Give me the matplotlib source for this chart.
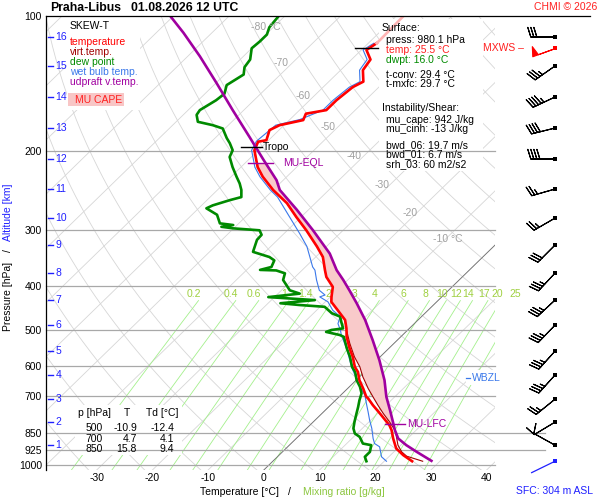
import numpy as np
import matplotlib
matplotlib.use('Agg')
import matplotlib.pyplot as plt
from matplotlib.transforms import Affine2D
from matplotlib.patches import Rectangle
from matplotlib.lines import Line2D
from matplotlib.ticker import NullLocator

plt.rcParams['font.family'] = ['Liberation Sans', 'DejaVu Sans']

# ---- sounding data ----
p_temp = [980, 950, 918, 872, 836, 815, 767, 735, 710, 704.5,
          675, 647, 620, 604, 574, 550, 518, 496, 475, 452,
          433, 422, 401, 381, 368, 344, 326, 300, 280, 261,
          244, 228, 217, 199, 190.5, 189, 179.5, 175, 170.5, 165,
          162, 154, 144, 140, 132, 125, 119, 115]
t_temp = [25.0, 22.3, 19.8, 17.4, 15.6, 14.3, 10.4, 7.6, 5.5, 4.9,
          2.8, 0.6, -1.2, -2.7, -4.9, -7.0, -9.7, -11.3, -13.1, -16.2,
          -18.9, -19.8, -21.4, -24.4, -25.9, -28.7, -31.7, -36.6, -40.9, -45.1,
          -50.0, -54.3, -57.0, -60.7, -61.6, -60.4, -61.7, -60.8, -57.5, -58.2,
          -55.2, -55.2, -54.7, -53.8, -56.0, -56.6, -59.1, -58.5]
p_temp_top = [115, 113, 100]
t_temp_top = [-58.5, -58.5, -58.7]

p_virt = [980, 955, 934, 902.5, 865, 836, 801, 767, 735, 704.5,
          675, 647, 636, 604, 574, 536, 500]
t_virt = [26.9, 23.1, 21.4, 19.5, 17.7, 16.2, 13.7, 11.0, 8.5, 6.1,
          3.7, 1.5, 0.6, -1.8, -4.6, -7.9, -11.0]

p_dew = [980, 958, 934, 902.5, 895, 865, 850, 828, 801, 767,
         742, 717, 692, 669, 647, 620, 604, 574, 550, 518,
         513, 509, 505, 500, 496, 480, 467, 459, 444, 440,
         436, 429, 422.5, 415, 408, 387, 374, 368.5, 367.5, 362,
         350, 344, 335, 315, 307, 300, 297, 294.6, 292, 289.5,
         277, 268, 264, 257, 253, 244, 236, 228, 217, 206,
         199, 192, 187, 178, 175, 172, 166, 162, 154, 149,
         142.5, 135, 130, 125, 118, 114, 110, 106, 100]
t_dew = [16.8, 15.7, 15.7, 14.7, 12.9, 11.1, 9.6, 8.4, 7.4, 6.2,
         5.3, 4.3, 3.4, 1.9, 0.1, -1.7, -3.2, -5.4, -7.5, -10.2,
         -11.3, -12.8, -14.3, -13.7, -11.9, -13.4, -14.6, -16.7, -19.2, -24.0,
         -27.8, -22.2, -31.1, -26.1, -28.5, -31.6, -32.5, -34.6, -37.6, -36.1,
         -36.8, -38.3, -42.2, -43.7, -43.8, -45.0, -50.1, -52.5, -50.7, -53.4,
         -55.5, -58.6, -58.0, -55.9, -54.4, -55.7, -57.2, -59.0, -61.5, -63.9,
         -64.6, -66.4, -67.9, -70.4, -72.8, -76.1, -77.6, -77.9, -76.8, -76.5,
         -77.7, -76.6, -77.8, -78.2, -80.0, -79.8, -79.8, -80.7, -81.1]

p_wet = [980, 958, 910, 895, 872, 828, 794, 761, 735, 698,
         663, 604, 554, 513, 500, 484, 467, 452, 433, 422,
         418, 408, 387, 368, 362, 326, 305, 280, 253, 244,
         228, 217, 199, 190, 175, 170, 162, 154, 144, 140,
         132, 125, 119, 115]
t_wet = [20.4, 18.7, 16.5, 15.0, 13.8, 11.7, 9.8, 8.0, 6.5, 4.3,
         1.4, -3.3, -7.2, -11.0, -12.1, -13.7, -14.6, -17.1, -19.5, -21.9,
         -21.3, -23.2, -25.6, -27.7, -28.7, -33.5, -37.2, -42.1, -47.9, -50.5,
         -54.8, -57.5, -61.2, -62.0, -61.5, -58.2, -55.8, -55.8, -55.3, -54.4,
         -56.6, -57.2, -59.7, -59.0]

p_parcel = [978, 934, 902.5, 872, 836, 801, 754, 704.5, 647, 584,
            527, 475, 436, 408, 387, 368, 338, 300, 270, 244,
            232, 209, 186, 162, 141, 123, 109, 99.5]
t_parcel = [28.4, 24.1, 21.0, 18.3, 16.2, 14.3, 11.6, 8.5, 5.1, 0.5,
            -4.4, -9.5, -14.1, -17.8, -20.8, -23.8, -28.1, -35.4, -42.1, -48.8,
            -51.2, -57.3, -64.0, -72.0, -79.9, -87.8, -95.1, -100.9]

p_lfc, p_eql, p_tropo, p_wbzl, p_mxws = 810, 212, 195.5, 639, 118

# altitude (km 1..16) and the winds plotted at those heights
km = list(range(1, 17))
p_km = [902.5, 802, 713, 630, 557.3, 487.8, 429, 373.6, 323.6, 281.8,
        242.8, 208.2, 177.6, 151.5, 129.2, 111.4]
wind_dir = [299, 239, 231, 222, 222, 224, 227, 223, 225, 240,
            254, 270, 256, 245, 235, 270]
wind_spd = [10, 10, 25, 35, 35, 35, 35, 35, 30, 25, 25, 40, 40, 45, 35, 30]
mxws_dir, mxws_spd = 250, 50
sfc_p, sfc_dir = 980, 244

p_levels = [100, 200, 300, 400, 500, 600, 700, 850, 925, 1000]
t_ticks = [-30, -20, -10, 0, 10, 20, 30, 40]
mix_ratios = [0.2, 0.4, 0.6, 1, 1.4, 2, 3, 4, 6, 8, 10, 12, 14, 17, 20, 25]
mix_labels = ['0.2', '0.4', '0.6', '1', '1.4', '2', '3', '4', '6', '8',
              '10', '12', '14', '17', '20', '25']

P_BOT = 1025.0
SKEW = 36.0


def skx(t, p):
    return np.asarray(t, float) + SKEW * np.log(P_BOT / np.asarray(p, float))


def ypx(p):
    return 16 + 454 * np.log(p / 100.0) / np.log(P_BOT / 100.0)


fig = plt.figure(figsize=(6, 5), dpi=100)
fig.patch.set_facecolor('white')
pix = Affine2D().scale(1 / 600, -1 / 500).translate(0, 1) + fig.transFigure


def ptxt(x, y, s, **kw):
    kw.setdefault('va', 'center')
    kw.setdefault('fontsize', 7.5)
    fig.text(x / 600, 1 - y / 500, s, **kw)


ax = fig.add_axes([46 / 600, 30 / 500, 449 / 600, 454 / 500])
ax.set_yscale('log')
ax.set_ylim(P_BOT, 100)
ax.set_xlim(-39.1, 41.5)
ax.set_facecolor('white')
for s in ['top', 'right', 'bottom']:
    ax.spines[s].set_visible(False)
ax.spines['left'].set_linewidth(0.9)

ax.set_yticks(p_levels)
ax.set_yticklabels([str(p) for p in p_levels])
ax.yaxis.set_minor_locator(NullLocator())
ax.set_xticks(t_ticks)
ax.set_xticklabels([str(t) for t in t_ticks])
ax.tick_params(axis='y', length=0, pad=3, labelsize=7.5)
ax.tick_params(axis='x', length=0, pad=2.5, labelsize=7.5)

# background diagram: isotherms, dry adiabats, mixing ratio lines
pp = np.geomspace(P_BOT, 100, 150)
for t in range(-130, 50, 10):
    ax.plot(skx(t, pp), pp, color='#d6d6d6', lw=0.6, zorder=1)
ax.plot(skx(0, pp), pp, color='#707070', lw=0.6, zorder=1.2)
for th in range(230, 480, 10):
    ax.plot(skx(th * (pp / 1000.0) ** 0.2857 - 273.15, pp), pp,
            color='#d6d6d6', lw=0.6, zorder=1)
pm = np.geomspace(P_BOT, 430, 60)
for w, lab in zip(mix_ratios, mix_labels):
    a = np.log(w * pm / (622.0 + w) / 6.112)
    ax.plot(skx(243.5 * a / (17.67 - a), pm), pm, color='#a4f08c', lw=0.6, zorder=1.1)
    a4 = np.log(w * 445 / (622.0 + w) / 6.112)
    ax.text(skx(243.5 * a4 / (17.67 - a4), 445), 416, lab, color='#9fd040',
            fontsize=7.5, ha='center', va='center', clip_on=False, zorder=1.3)

# white boxes behind text
for x0, y0, w, h in [(67, 16, 73, 94), (379, 19, 104, 152), (75, 405, 107, 50), (466, 370, 42, 15)]:
    ax.add_patch(Rectangle((x0, y0), w, h, transform=pix, facecolor='white',
                           edgecolor='none', zorder=1.5, clip_on=False))
ax.add_patch(Rectangle((68, 93), 56, 13, transform=pix, facecolor='#f8c6c6',
                       edgecolor='none', zorder=1.6, clip_on=False))

# pressure lines
for p in p_levels[1:]:
    ext = 1.111 if p in (850, 925) else 1.0
    ax.axhline(p, xmax=ext, color='#a8a8a8', lw=0.9, zorder=2, clip_on=False)

# CAPE area between parcel and virtual temperature
p_tv = np.array(p_virt + [p for p in p_temp if p < 500], float)
t_tv = np.array(t_virt + [t for p, t in zip(p_temp, t_temp) if p < 500], float)
pf = np.geomspace(p_lfc, p_eql, 200)
tv_i = np.interp(-np.log(pf), -np.log(p_tv), t_tv)
tp_i = np.interp(-np.log(pf), -np.log(p_parcel), t_parcel)
ax.fill_betweenx(pf, skx(tv_i, pf), skx(tp_i, pf), where=tp_i >= tv_i,
                 color='#f9caca', lw=0, zorder=3)

ax.plot(skx(t_tv, p_tv), p_tv, color='#a00000', lw=0.8, zorder=5)
ax.plot(skx(t_wet, p_wet), p_wet, color='#3a78ea', lw=0.8, zorder=5)
ax.plot(skx(t_dew, p_dew), p_dew, color='#008a00', lw=1.9, zorder=6)
ax.plot(skx(t_temp, p_temp), p_temp, color='#ff0000', lw=1.9, zorder=6)
ax.plot(skx(t_temp_top, p_temp_top), p_temp_top, color='#ffb4b4', lw=1.9, zorder=6)
ax.plot(skx(t_parcel, p_parcel), p_parcel, color='#a000a0', lw=1.9, zorder=6)

# level markers
ax.plot([-4.1, -0.4], [p_tropo] * 2, color='k', lw=1, zorder=7)
ax.text(-0.2, p_tropo, 'Tropo', fontsize=7.5, va='center', zorder=8)
ax.plot([-2.9, 1.6], [p_eql] * 2, color='#a000a0', lw=1, zorder=7)
ax.text(3.4, p_eql, 'MU-EQL', fontsize=7.5, va='center', color='#a000a0', zorder=8)
ax.plot([21.7, 25.3], [p_lfc] * 2, color='#a000a0', lw=1, zorder=7)
ax.text(25.7, p_lfc, 'MU-LFC', fontsize=7.5, va='center', color='#a000a0', zorder=8)
ax.plot([16.3, 20.5], [p_mxws] * 2, color='k', lw=1, zorder=7)

# altitude scale
yx = ax.get_yaxis_transform()
for k, p in zip(km, p_km):
    ax.plot([0.004, 0.016], [p, p], color='#2020ff', lw=1, transform=yx, zorder=7)
    ax.text(0.021, p, str(k), color='#2020ff', fontsize=7.5, va='center',
            transform=yx, zorder=8)

# wind barbs
xb = (555 - 46) / 449
d = np.radians(wind_dir)
u = -np.array(wind_spd) * np.sin(d)
v = -np.array(wind_spd) * np.cos(d)
ax.barbs([xb] * len(p_km), p_km, u, v, length=5.9, lw=0.8, color='k',
         transform=yx, clip_on=False, zorder=7)
ax.scatter([xb] * len(p_km), p_km, marker='s', s=6, color='k', lw=0,
           transform=yx, clip_on=False, zorder=8)
dm = np.radians(mxws_dir)
ax.barbs([xb], [p_mxws], [-mxws_spd * np.sin(dm)], [-mxws_spd * np.cos(dm)],
         length=5.9, lw=0.8, color='red', transform=yx, clip_on=False, zorder=7)
ax.scatter([xb], [p_mxws], marker='s', s=6, color='red', lw=0,
           transform=yx, clip_on=False, zorder=8)
ds = np.radians(sfc_dir)
y0 = ypx(sfc_p)
ax.plot([555, 555 + 26 * np.sin(ds)], [y0, y0 - 26 * np.cos(ds)], color='#2020ff',
        lw=0.9, transform=pix, clip_on=False, zorder=7)
ax.scatter([555], [y0], marker='s', s=6, color='#2020ff', lw=0,
           transform=pix, clip_on=False, zorder=8)

# WBZL
ax.plot([466, 470], [ypx(p_wbzl)] * 2, color='#3a78ea', lw=0.9, transform=pix,
        clip_on=False, zorder=7)
ptxt(472, ypx(p_wbzl), 'WBZL', color='#3a78ea')

# frame line on top
fig.add_artist(Line2D([46 / 600, 590 / 600], [1 - 15.5 / 500] * 2, color='k', lw=0.9))

# titles and labels
ptxt(50, 8, 'Praha-Libus', fontsize=8.8, fontweight='bold')
ptxt(131, 8, '01.08.2026 12 UTC', fontsize=8.8, fontweight='bold')
ptxt(597, 7, 'CHMI © 2026', color='#ff2020', ha='right')
ptxt(239, 492, 'Temperature [°C]', ha='center')
ptxt(289, 492, '/', ha='center')
ptxt(344, 492, 'Mixing ratio [g/kg]', ha='center', color='#8cc63f')
ptxt(554, 491, 'SFC: 304 m ASL', ha='center', color='#2020ff')
ptxt(8, 212, 'Altitude [km]', rotation=90, ha='center', color='#2020ff')
ptxt(8, 251, '/', rotation=90, ha='center')
ptxt(8, 296, 'Pressure [hPa]', rotation=90, ha='center')

# legend
ptxt(70, 26, 'SKEW-T')
for y, s, c in [(42, 'temperature', '#ff0000'), (52, 'virt.temp.', '#a00000'),
                (62, 'dew point', '#008a00'), (72, 'wet bulb temp.', '#3a78ea'),
                (82, 'udpraft v.temp.', '#a000a0')]:
    ptxt(70, y, s, color=c)
ptxt(75, 100, 'MU CAPE', color='#ff2020')

# isotherm labels
for s, x, y in [('-80 °C', 266, 27), ('-70', 281, 63), ('-60', 303, 96), ('-50', 328, 127),
                ('-40', 354, 156), ('-30', 382, 185), ('-20', 410, 213), ('-10 °C', 448, 239)]:
    ptxt(x, y, s, ha='center', color='#a0a0a0')

# surface / instability box
ptxt(382, 28, 'Surface:')
ptxt(386, 40, 'press: 980.1 hPa')
ptxt(386, 50, 'temp: 25.5 °C', color='#ff2020')
ptxt(386, 60, 'dwpt: 16.0 °C', color='#008a00')
ptxt(386, 75, 't-conv: 29.4 °C')
ptxt(386, 84, 't-mxfc: 29.7 °C')
ptxt(382, 108, 'Instability/Shear:')
ptxt(386, 120, 'mu_cape: 942 J/kg')
ptxt(386, 129, 'mu_cinh: -13 J/kg')
ptxt(386, 145, 'bwd_06: 19.7 m/s')
ptxt(386, 154, 'bwd_01: 6.7 m/s')
ptxt(386, 164, 'srh_03: 60 m2/s2')
ptxt(483, 48, 'MXWS –', color='#ff2020')

# small table
ptxt(78, 413, 'p [hPa]')
ptxt(127, 413, 'T', ha='center')
ptxt(146, 413, 'Td [°C]')
for y, row in [(428, ('500', '-10.9', '-12.4')), (439, ('700', '4.7', '4.1')),
               (449, ('850', '15.8', '9.4'))]:
    ptxt(103, y, row[0], ha='right')
    ptxt(137, y, row[1], ha='right')
    ptxt(174, y, row[2], ha='right')

fig.savefig('out.png', dpi=100)
